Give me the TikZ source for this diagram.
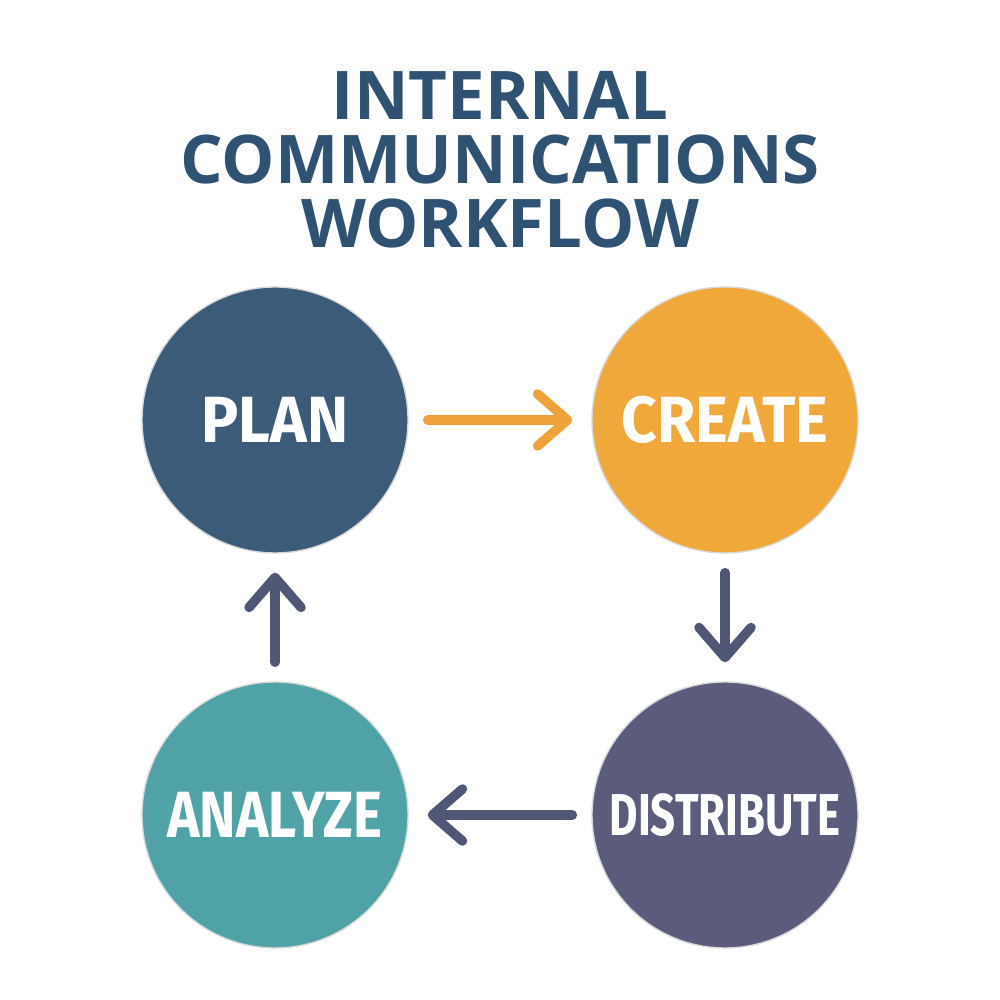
\documentclass[tikz,border=0pt]{standalone}
\usepackage{fontspec}
\usetikzlibrary{arrows.meta}
\newfontfamily\titlefont{Open Sans}
\newfontfamily\stagefont[FakeStretch=0.95]{Fira Sans}
\newfontfamily\narrowfont[FakeStretch=0.84]{Fira Sans}
\newfontfamily\tightfont[FakeStretch=0.74]{Fira Sans}
\definecolor{wfnavy}{HTML}{2F5272}
\definecolor{wfplan}{HTML}{3B5B78}
\definecolor{wfcreate}{HTML}{F0A83A}
\definecolor{wfdistribute}{HTML}{5B5C7B}
\definecolor{wfanalyze}{HTML}{4FA3A6}
\definecolor{wfarrow}{HTML}{4F5775}
\definecolor{wforange}{HTML}{EFA23A}

\begin{document}
\begin{tikzpicture}[
  stage/.style={circle, draw=white!85!black, line width=0.4pt, minimum size=2.66cm, inner sep=0pt,
    text=white, font=\stagefont\bfseries\fontsize{18.6}{20}\selectfont},
  flow/.style={line width=0.095cm, line cap=round, shorten <=0.19cm, shorten >=0.19cm,
    -{Straight Barb[length=3mm, width=5.2mm, line cap=round, line join=round]}}
]
\useasboundingbox (0,0) rectangle (10,10);

% Title
\node[align=center, text=wfnavy, font=\titlefont\bfseries\fontsize{19.1}{18.2}\selectfont] (title) at (5,8.40)
  {INTERNAL\\COMMUNICATIONS\\WORKFLOW};

% Stages
\node[stage, fill=wfplan] (plan) at (2.75,5.80) {PLAN};
\node[stage, fill=wfcreate] (create) at (7.25,5.80) {CREATE};
\node[stage, fill=wfdistribute, font=\tightfont\bfseries\fontsize{16.8}{18}\selectfont] (distribute) at (7.25,1.85) {DISTRIBUTE};
\node[stage, fill=wfanalyze, font=\narrowfont\bfseries\fontsize{18.6}{20}\selectfont] (analyze) at (2.75,1.85) {ANALYZE};

% Arrows
\draw[flow, wforange] (plan) -- (create);
\draw[flow, wfarrow] (create) -- (distribute);
\draw[flow, wfarrow] (distribute) -- (analyze);
\draw[flow, wfarrow] (analyze) -- (plan);
\end{tikzpicture}
\end{document}
